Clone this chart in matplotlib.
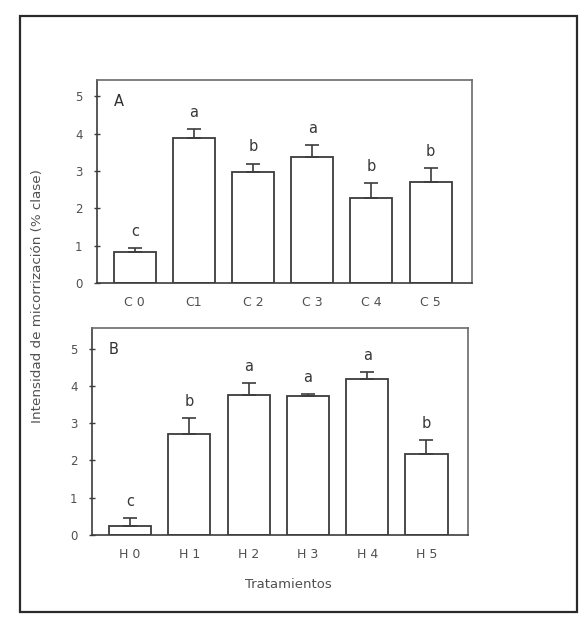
import matplotlib
matplotlib.use("Agg")
import matplotlib.pyplot as plt
from matplotlib.patches import Rectangle

# Panel A: treatments C
cat_a = ["C 0", "C1", "C 2", "C 3", "C 4", "C 5"]
val_a = [0.83, 3.88, 2.98, 3.38, 2.28, 2.71]
err_a = [0.10, 0.24, 0.22, 0.32, 0.40, 0.37]
let_a = ["c", "a", "b", "a", "b", "b"]

# Panel B: treatments H
cat_b = ["H 0", "H 1", "H 2", "H 3", "H 4", "H 5"]
val_b = [0.24, 2.70, 3.75, 3.72, 4.17, 2.17]
err_b = [0.21, 0.43, 0.32, 0.06, 0.20, 0.38]
let_b = ["c", "b", "a", "a", "a", "b"]

yticks = [0, 1, 2, 3, 4, 5]

INK = "#3c3c3c"
TXT = "#505050"
plt.rcParams["font.family"] = ["DejaVu Sans"]

fig = plt.figure(figsize=(5.81, 6.21), dpi=100)
fig.patch.set_facecolor("white")

# outer frame around the whole figure
fig.patches.append(Rectangle((20 / 581, 1 - 612 / 621), (577 - 20) / 581, (612 - 16) / 621,
                             transform=fig.transFigure, fill=False, edgecolor="#2a2a2a",
                             linewidth=1.6))

axA = fig.add_axes([97 / 581, 1 - 283 / 621, (472 - 97) / 581, (283 - 80) / 621])
axB = fig.add_axes([92 / 581, 1 - 535 / 621, (468 - 92) / 581, (535 - 328) / 621])


def panel(ax, cats, vals, errs, letters, tag, ytop):
    x = range(len(cats))
    ax.bar(x, vals, width=0.71, facecolor="white", edgecolor=INK, linewidth=1.3, zorder=2)
    ax.errorbar(x, vals, yerr=[[0] * len(vals), errs], fmt="none", ecolor=INK,
                elinewidth=1.2, capsize=5, capthick=1.2, zorder=3)
    for xi, v, e, l in zip(x, vals, errs, letters):
        ax.text(xi, v + e + 0.25, l, ha="center", va="bottom", fontsize=10.5,
                color="#383838")
    ax.set_xlim(-0.64, 5.70)
    ax.set_ylim(0, ytop)
    ax.set_yticks(yticks)
    ax.set_xticks(list(x))
    ax.set_xticklabels(cats)
    ax.tick_params(axis="y", direction="inout", length=5, width=1, colors=INK,
                   labelcolor=TXT, labelsize=8.5, pad=8)
    ax.tick_params(axis="x", length=0, labelcolor=TXT, labelsize=9, pad=9)
    for s in ax.spines.values():
        s.set_color(INK)
        s.set_linewidth(1.2)
    ax.spines["right"].set_color("#6a6a6a")
    ax.spines["top"].set_color("#6a6a6a")
    ax.text(0.045, 0.93, tag, transform=ax.transAxes, fontsize=10.5,
            color="#303030", va="top", ha="left")


panel(axA, cat_a, val_a, err_a, let_a, "A", 5.44)
panel(axB, cat_b, val_b, err_b, let_b, "B", 5.55)

fig.text(38 / 581, 1 - 296 / 621, "Intensidad de micorrización (% clase)",
         rotation=90, ha="center", va="center", fontsize=9.7, color=TXT)
fig.text(288 / 581, 1 - 585 / 621, "Tratamientos", ha="center", va="center",
         fontsize=9.5, color=TXT)

fig.savefig("out.png", dpi=100, facecolor="white")
